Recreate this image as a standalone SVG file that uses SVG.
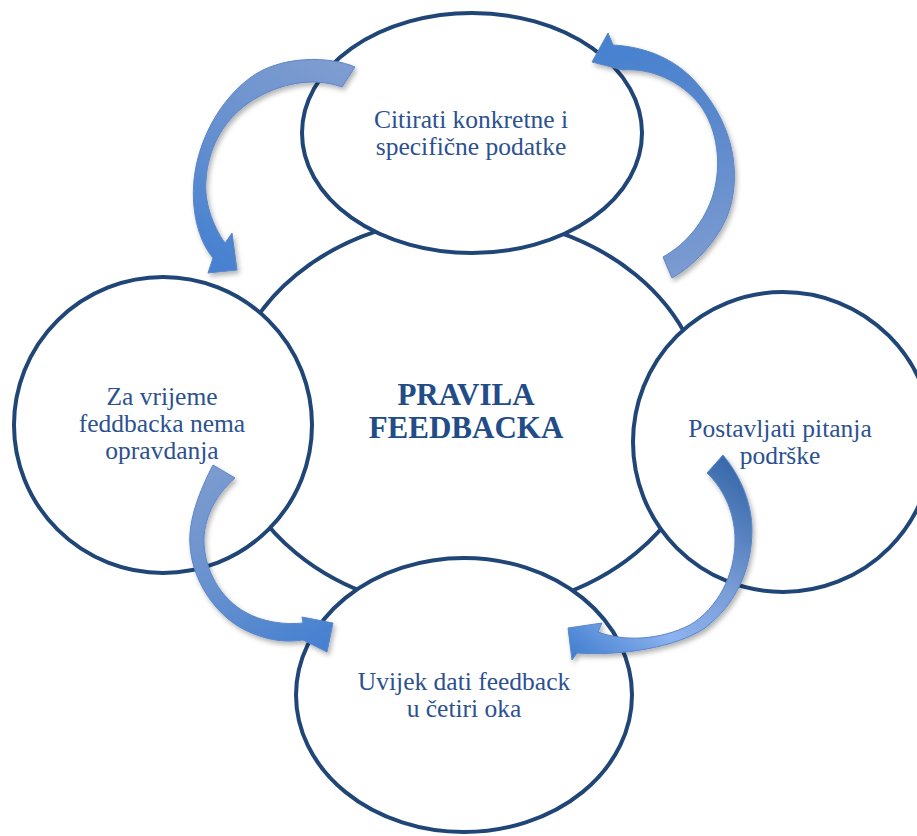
<svg xmlns="http://www.w3.org/2000/svg" width="917" height="836" viewBox="0 0 917 836">
<style>
.c{fill:#fff;stroke:#1F4677;stroke-width:4}
.t{font-size:25.5px;fill:#2C5190;text-anchor:middle}
.h{font-size:31px;font-weight:bold;fill:#214C88;text-anchor:middle}
.a{stroke:#5A86C8;stroke-width:1;filter:url(#sh)}
</style>
<defs>
<filter id="sh" x="-20%" y="-20%" width="140%" height="140%">
<feDropShadow dx="2" dy="3" stdDeviation="2.5" flood-color="#000" flood-opacity="0.3"/>
</filter>
<linearGradient id="g1" gradientUnits="userSpaceOnUse" x1="340" y1="60" x2="225" y2="270">
<stop offset="0" stop-color="#7F9DD0"/><stop offset="0.5" stop-color="#6790CF"/><stop offset="1" stop-color="#4681D0"/>
</linearGradient>
<linearGradient id="g2" gradientUnits="userSpaceOnUse" x1="600" y1="45" x2="680" y2="275">
<stop offset="0" stop-color="#4681D0"/><stop offset="0.45" stop-color="#5A88CC"/><stop offset="1" stop-color="#7C9BD0"/>
</linearGradient>
<linearGradient id="g3" gradientUnits="userSpaceOnUse" x1="220" y1="465" x2="330" y2="640">
<stop offset="0" stop-color="#7C9BCF"/><stop offset="0.5" stop-color="#6690CF"/><stop offset="1" stop-color="#4681D0"/>
</linearGradient>
<linearGradient id="g4" gradientUnits="userSpaceOnUse" x1="720" y1="460" x2="570" y2="650">
<stop offset="0" stop-color="#3A6BAC"/><stop offset="0.4" stop-color="#7A9DD6"/><stop offset="0.7" stop-color="#8CB3EF"/><stop offset="1" stop-color="#4580D0"/>
</linearGradient>
</defs>
<g font-family="'Liberation Serif', 'Times New Roman', Times, 'DejaVu Serif', serif">
<g id="center">
<ellipse class="c" cx="466" cy="414" rx="240" ry="197"/>
<text class="h" x="466" y="405">PRAVILA</text>
<text class="h" x="466" y="438">FEEDBACKA</text>
</g>
<g id="top">
<ellipse class="c" cx="472" cy="133" rx="170" ry="120"/>
<text class="t" x="471" y="128">Citirati konkretne i</text>
<text class="t" x="471" y="155">specifične podatke</text>
</g>
<g id="left">
<ellipse class="c" cx="163" cy="425" rx="149" ry="148"/>
<text class="t" x="162" y="405">Za vrijeme</text>
<text class="t" x="162" y="432">feddbacka nema</text>
<text class="t" x="162" y="459">opravdanja</text>
</g>
<g id="right">
<ellipse class="c" cx="783" cy="442" rx="150" ry="150"/>
<text class="t" x="780" y="437">Postavljati pitanja</text>
<text class="t" x="780" y="464">podrške</text>
</g>
<g id="bottom">
<ellipse class="c" cx="464" cy="695" rx="168" ry="137"/>
<text class="t" x="464" y="690">Uvijek dati feedback</text>
<text class="t" x="464" y="717">u četiri oka</text>
</g>
</g>
<g id="connectors">
<path class="a" fill="url(#g1)" d="M355,67 C330,56 280,55 250,78 C220,100 198,140 194,180 C191,210 198,240 213,258 L208,273 L237,270 L232,233 L225,243 C212,225 204,200 206,180 C208,150 222,122 247,104 C272,86 310,75 342,87 Z"/>
<path class="a" fill="url(#g2)" d="M672,278 C695,265 725,235 732,200 C740,160 728,120 700,87 C680,62 650,47 613,45 L608,33 L592,62 L623,70 C650,68 680,80 700,105 C718,130 722,165 713,195 C705,220 688,243 663,257 Z"/>
<path class="a" fill="url(#g3)" d="M213,465 C200,490 188,520 190,545 C192,580 215,615 245,630 C265,640 285,643 303,640 L327,652 L333,623 L302,617 L303,623 C285,625 262,622 245,612 C220,598 205,570 204,543 C203,520 215,495 235,478 Z"/>
<path class="a" fill="url(#g4)" d="M723,455 C742,478 752,505 752,530 C752,570 735,605 705,628 C675,648 620,656 577,653 L572,660 L568,628 L602,623 L598,632 C625,642 660,640 690,625 C718,608 735,575 735,540 C735,515 725,490 707,473 Z"/>
</g>
</svg>
